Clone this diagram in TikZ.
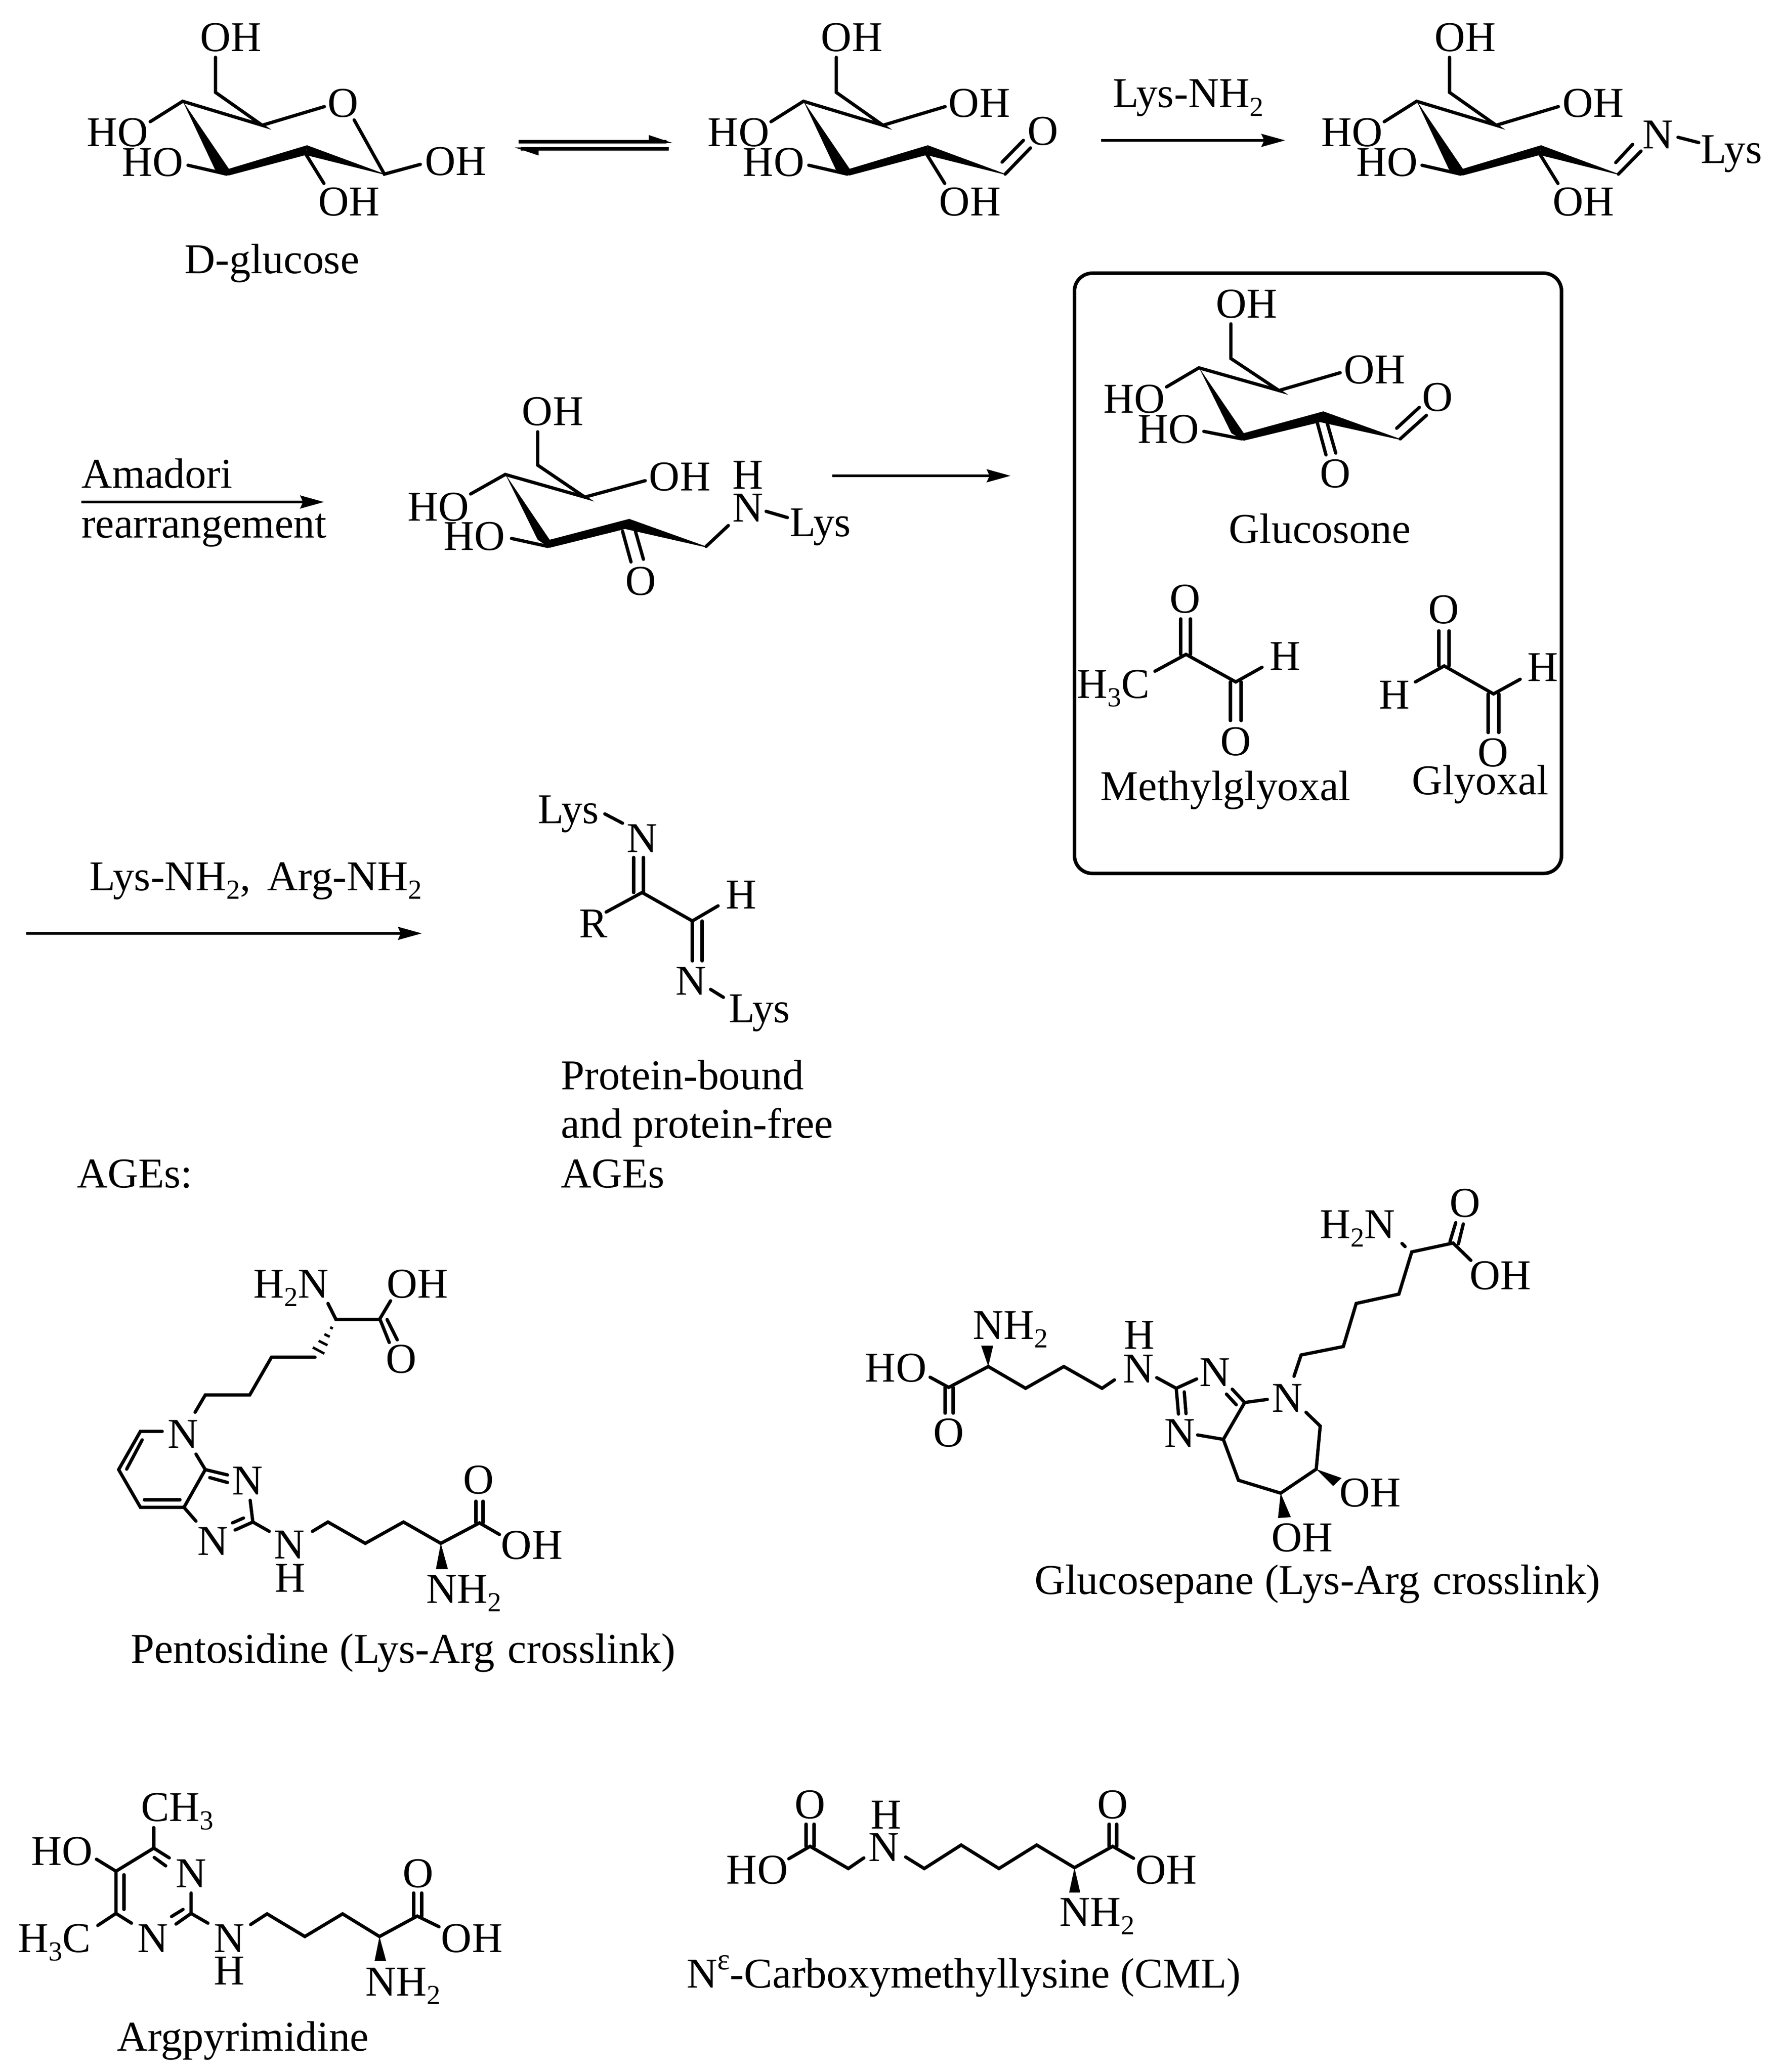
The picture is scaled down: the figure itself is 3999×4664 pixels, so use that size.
\documentclass[tikz,border=0pt]{standalone}
\usepackage{fontspec}
\setmainfont{Liberation Serif}
\newcommand\dn[1]{\raisebox{-0.2em}{\fontsize{15.5pt}{15.5pt}\selectfont #1}}
\newcommand\upx[1]{\raisebox{0.42em}{\fontsize{17pt}{17pt}\selectfont #1}}
\tikzset{
  lab/.style={anchor=base,inner sep=0pt,outer sep=0pt,font=\fontsize{23.9pt}{28pt}\selectfont},
  labl/.style={lab,anchor=base west},
  bond/.style={draw=black,line width=1.85pt,line join=miter,line cap=round},
  hashb/.style={draw=black,line width=1.4pt},
  arline/.style={draw=black,line width=1.6pt,shorten >=8pt},
  framebox/.style={draw=black,line width=2pt,rounded corners=10pt}
}
\newcommand\lb[4]{\node[lab] (#1) at (#2,#3) {#4};}
\newcommand\lbw[4]{\node[labl] (#1) at (#2,#3) {#4};}
\newcommand\arw[4]{\coordinate (#1s) at (#2,#4); \coordinate (#1e) at (#3,#4);
  \draw[arline] (#1s)--(#1e);
  \fill (#1e) -- ++(-54,-15) -- ++(7,15) -- ++(-7,15) -- cycle;}
\newcommand\chair[1]{%
  \draw[bond] (485,129)--(485,208)--(590,282)--(411,228)--(338,274);
  \draw[bond] (423,372)--(510,392);
  \draw[bond] (687,345)--(729,413);
  \draw[bond] (590,282)--(730,240);
  \fill (411,227)--(515,380)--(515,395)--(484,382)--cycle;
  \fill (515,380)--(691,327)--(688,349)--(515,395)--cycle;
  \fill (691,327)--(864,391)--(864,393)--(688,349)--cycle;
  \lb{#1a}{520}{116}{OH}
  \lb{#1b}{265}{330}{HO}
  \lb{#1c}{344}{397}{HO}
  \lb{#1d}{786}{486}{OH}
}
\begin{document}
\begin{tikzpicture}[x=0.25pt,y=-0.25pt]
\useasboundingbox (0,0) rectangle (3999,4664);
\fill[white] (0,0) rectangle (3999,4664);

% ---------- D-glucose
\chair{ga}
\draw[bond] (797,270)--(865,392)--(946,370);
\lb{gaO}{772}{264}{O}
\lb{gaR}{1026}{395}{OH}
\lb{gaN}{612}{616}{D-glucose}

% equilibrium arrow
\coordinate (eqA) at (1167,319); \coordinate (eqB) at (1500,319);
\coordinate (eqC) at (1505,335); \coordinate (eqD) at (1172,335);
\draw[bond,line cap=butt] (eqA)--(eqB); \draw[bond,line cap=butt] (eqC)--(eqD);
\fill (1460,304)--(1514,322)--(1460,322)--cycle;
\fill (1158,332)--(1212,332)--(1212,350)--cycle;

% ---------- open chain
\begin{scope}[shift={(1397,0)}]
\chair{gb}
\lb{gbO}{807}{264}{OH}
\lb{gbP}{950}{327}{O}
\draw[bond] (865,392)--(922,333);
\draw[bond] (858,365)--(906,316);
\end{scope}

\arw{a1}{2478}{2892}{316}
\lbw{a1t}{2504}{242}{Lys-NH\dn{2}}

% ---------- imine
\begin{scope}[shift={(2777,0)}]
\chair{gc}
\lb{gcO}{808}{264}{OH}
\draw[bond] (865,392)--(916,340);
\draw[bond] (859,366)--(897,325);
\draw[bond] (999,309)--(1046,321);
\end{scope}
\lb{gcN}{3731}{335}{N}
\lbw{gcL}{3827}{368}{Lys}

% ---------- frame
\draw[framebox] (2418,615) rectangle (3514,1966);

% ---------- glucosone
\draw[bond] (2770,729)--(2770,807)--(2878,879)--(2698,828)--(2625,871);
\draw[bond] (2878,879)--(3016,839);
\draw[bond] (2709,971)--(2795,988);
\fill (2698,827)--(2799,975)--(2799,992)--(2771,975)--cycle;
\fill (2799,975)--(2978,926)--(2972,950)--(2799,992)--cycle;
\fill (2978,926)--(3151,988)--(3151,990)--(2970,950)--cycle;
\draw[bond] (2964,950)--(2984,1024);
\draw[bond] (2986,950)--(3006,1020);
\draw[bond] (3151,988)--(3210,935);
\draw[bond] (3143,964)--(3194,917);
\lb{gsA}{2805}{716}{OH}
\lb{gsB}{3093}{864}{OH}
\lb{gsC}{2552}{930}{HO}
\lb{gsD}{2629}{998}{HO}
\lb{gsE}{3005}{1097}{O}
\lb{gsF}{3235}{926}{O}
\lb{gsN}{2970}{1222}{Glucosone}

% ---------- methylglyoxal
\draw[bond] (2599,1511)--(2669,1473)--(2781,1535)--(2840,1502);
\draw[bond] (2657,1473)--(2657,1393);
\draw[bond] (2679,1473)--(2679,1393);
\draw[bond] (2769,1535)--(2769,1622);
\draw[bond] (2793,1535)--(2793,1622);
\lb{mgO}{2667}{1379}{O}
\lb{mgP}{2781}{1700}{O}
\lb{mgH}{2892}{1508}{H}
\lbw{mgC}{2423}{1571}{H\dn{3}C}
\lb{mgN}{2758}{1801}{Methylglyoxal}

% ---------- glyoxal
\draw[bond] (3185,1535)--(3250,1499)--(3361,1562)--(3421,1529);
\draw[bond] (3238,1499)--(3238,1420);
\draw[bond] (3261,1499)--(3261,1420);
\draw[bond] (3349,1562)--(3349,1649);
\draw[bond] (3373,1562)--(3373,1649);
\lb{gyO}{3249}{1403}{O}
\lb{gyP}{3360}{1725}{O}
\lb{gyH}{3138}{1595}{H}
\lb{gyI}{3472}{1533}{H}
\lb{gyN}{3331}{1788}{Glyoxal}

% ---------- Amadori
\lbw{amA}{183}{1098}{Amadori}
\lbw{amB}{183}{1210}{rearrangement}
\arw{a2}{183}{729}{1130}
\draw[bond] (1210,972)--(1210,1047)--(1316,1119)--(1137,1068)--(1059,1112);
\draw[bond] (1316,1119)--(1452,1082);
\draw[bond] (1151,1212)--(1233,1230);
\fill (1137,1067)--(1237,1215)--(1237,1233)--(1210,1215)--cycle;
\fill (1237,1215)--(1416,1168)--(1410,1190)--(1237,1233)--cycle;
\fill (1416,1168)--(1589,1230)--(1589,1232)--(1408,1191)--cycle;
\draw[bond] (1401,1196)--(1420,1265);
\draw[bond] (1430,1196)--(1448,1259);
\draw[bond] (1589,1230)--(1639,1183);
\draw[bond] (1724,1151)--(1772,1165);
\lb{amC}{1244}{958}{OH}
\lb{amD}{1530}{1105}{OH}
\lb{amE}{987}{1172}{HO}
\lb{amF}{1068}{1238}{HO}
\lb{amO}{1442}{1339}{O}
\lb{amN}{1683}{1174}{N}
\lb{amH}{1683}{1100}{H}
\lbw{amL}{1777}{1207}{Lys}
\arw{a3}{1873}{2274}{1071}

% ---------- third row
\lbw{a4t}{201}{2004}{Lys-NH\dn{2},\kern3.5pt\ Arg-NH\dn{2}}
\arw{a4}{59}{949}{2101}
\draw[bond] (1361,1832)--(1401,1853);
\draw[bond] (1426,1930)--(1426,2009);
\draw[bond] (1448,1930)--(1448,2009);
\draw[bond] (1364,2053)--(1445,2009)--(1558,2073)--(1616,2039);
\draw[bond] (1558,2073)--(1558,2163);
\draw[bond] (1580,2073)--(1580,2163);
\draw[bond] (1599,2227)--(1628,2245);
\lbw{rbA}{1210}{1853}{Lys}
\lb{rbN}{1445}{1918}{N}
\lb{rbR}{1335}{2110}{R}
\lb{rbH}{1668}{2045}{H}
\lb{rbM}{1555}{2239}{N}
\lbw{rbB}{1640}{2301}{Lys}
\lbw{rbC}{1262}{2452}{Protein-bound}
\lbw{rbD}{1262}{2561}{and protein-free}
\lbw{rbE}{1262}{2673}{AGEs}
\lbw{rbF}{173}{2673}{AGEs:}

% ---------- pentosidine
\draw[bond] (738,2934)--(756,2970)--(854,2970)--(879,2928);
\draw[bond] (856,2972)--(876,3022);
\draw[bond] (871,2970)--(894,3016);
\draw[hashb] (743,2987.5)--(749,2990.5);
\draw[hashb] (730,3003)--(742,3009);
\draw[hashb] (717,3018)--(737,3028);
\draw[hashb] (704,3033)--(730,3047);
\draw[bond] (709,3055)--(611,3055)--(562,3140)--(462,3140)--(439,3179);
\draw[bond] (365,3222)--(316,3222)--(267,3308)--(316,3393)--(414,3393)--(462,3308)--(441,3273);
\draw[bond] (320,3241)--(285,3307);
\draw[bond] (325,3376)--(405,3376);
\draw[bond] (462,3308)--(512,3320);
\draw[bond] (472,3326)--(512,3337);
\draw[bond] (563,3377)--(569,3426)--(606,3447);
\draw[bond] (529,3444)--(569,3426);
\draw[bond] (523,3428)--(548,3417);
\draw[bond] (414,3393)--(441,3424);
\draw[bond] (703,3447)--(738,3426)--(822,3474)--(908,3426)--(992,3474)--(1079,3428)--(1124,3454);
\draw[bond] (1071,3428)--(1071,3379);
\draw[bond] (1087,3428)--(1087,3379);
\fill (992,3474)--(981,3532)--(1008,3532)--cycle;
\lbw{peA}{570}{2921}{H\dn{2}N}
\lb{peB}{940}{2921}{OH}
\lb{peC}{903}{3090}{O}
\lb{peD}{412}{3259}{N}
\lb{peE}{557}{3364}{N}
\lb{peF}{479}{3500}{N}
\lb{peG}{651}{3508}{N}
\lb{peH}{653}{3583}{H}
\lb{peI}{1197}{3509}{OH}
\lb{peJ}{1077}{3362}{O}
\lbw{peK}{959}{3608}{NH\dn{2}}
\lb{peN}{907}{3743}{Pentosidine (Lys-Arg\kern1.5pt\ crosslink)}

% ---------- glucosepane
\draw[bond] (3263,2795)--(3276,2752);
\draw[bond] (3282,2800)--(3293,2755);
\draw[bond] (3155,2799)--(3162,2806);
\draw[bond] (3310,2837)--(3270,2798)--(3177,2818)--(3148,2913)--(3052,2934)--(3023,3031)--(2928,3050)--(2912,3098);
\draw[bond] (2939,3179)--(2971,3210)--(2962,3307)--(2882,3361)--(2787,3332)--(2753,3240)--(2801,3157)--(2852,3150);
\draw[bond] (2801,3157)--(2773,3127);
\draw[bond] (2782,3162)--(2760,3138);
\draw[bond] (2693,3104)--(2647,3125)--(2603,3101);
\draw[bond] (2647,3125)--(2652,3183);
\draw[bond] (2665,3133)--(2669,3182);
\draw[bond] (2695,3230)--(2753,3240);
\draw[bond] (2508,3106)--(2480,3125)--(2394,3076)--(2308,3125)--(2224,3076)--(2135,3123)--(2093,3100);
\draw[bond] (2127,3123)--(2127,3181);
\draw[bond] (2145,3123)--(2145,3181);
\fill (2224,3076)--(2208,3029)--(2235,3029)--cycle;
\fill (2962,3307)--(3019,3327)--(3000,3345)--cycle;
\fill (2882,3361)--(2876,3417)--(2905,3415)--cycle;
\lb{csA}{3297}{2739}{O}
\lbw{csB}{2970}{2787}{H\dn{2}N}
\lb{csC}{3376}{2902}{OH}
\lb{csD}{2897}{3178}{N}
\lb{csE}{2734}{3120}{N}
\lb{csF}{2655}{3257}{N}
\lb{csG}{2562}{3112}{N}
\lb{csH}{2564}{3036}{H}
\lb{csI}{2016}{3110}{HO}
\lb{csJ}{2135}{3256}{O}
\lbw{csK}{2189}{3014}{NH\dn{2}}
\lb{csL}{3083}{3391}{OH}
\lb{csM}{2930}{3492}{OH}
\lb{csN}{2965}{3588}{Glucosepane (Lys-Arg\kern1.5pt\ crosslink)}

% ---------- argpyrimidine
\draw[bond] (346,4114)--(346,4160);
\draw[bond] (217,4185)--(261,4212)--(346,4160)--(381,4182);
\draw[bond] (347,4181)--(373,4200);
\draw[bond] (430,4261)--(430,4307)--(396,4331);
\draw[bond] (386,4314)--(412,4298);
\draw[bond] (261,4212)--(261,4307)--(296,4329);
\draw[bond] (279,4220)--(279,4298);
\draw[bond] (261,4307)--(220,4334);
\draw[bond] (430,4307)--(468,4329);
\draw[bond] (564,4332)--(601,4308)--(686,4359)--(771,4308)--(854,4359)--(939,4313)--(988,4337);
\draw[bond] (931,4313)--(931,4261);
\draw[bond] (949,4313)--(949,4261);
\fill (854,4359)--(843,4414)--(869,4414)--cycle;
\lbw{arA}{317}{4099}{CH\dn{3}}
\lb{arB}{140}{4198}{HO}
\lb{arC}{430}{4248}{N}
\lb{arD}{344}{4394}{N}
\lbw{arE}{40}{4394}{H\dn{3}C}
\lb{arF}{516}{4394}{N}
\lb{arG}{516}{4467}{H}
\lb{arH}{1062}{4394}{OH}
\lb{arI}{941}{4248}{O}
\lbw{arJ}{822}{4492}{NH\dn{2}}
\lb{arN}{547}{4616}{Argpyrimidine}

% ---------- CML
\draw[bond] (1814,4156)--(1814,4106);
\draw[bond] (1832,4156)--(1832,4106);
\draw[bond] (1775,4184)--(1823,4156)--(1909,4206)--(1944,4182);
\draw[bond] (2038,4180)--(2080,4206)--(2163,4153)--(2248,4206)--(2333,4153)--(2418,4204)--(2504,4156)--(2551,4183);
\draw[bond] (2496,4156)--(2496,4106);
\draw[bond] (2513,4156)--(2513,4106);
\fill (2418,4204)--(2406,4260)--(2431,4260)--cycle;
\lb{cmA}{1823}{4093}{O}
\lb{cmB}{1704}{4240}{HO}
\lb{cmC}{1989}{4189}{N}
\lb{cmD}{1994}{4116}{H}
\lb{cmE}{2624}{4240}{OH}
\lb{cmF}{2504}{4093}{O}
\lbw{cmG}{2384}{4335}{NH\dn{2}}
\lb{cmN}{2169}{4474}{N\upx{ε}-Carboxymethyllysine (CML)}
\end{tikzpicture}
\end{document}
